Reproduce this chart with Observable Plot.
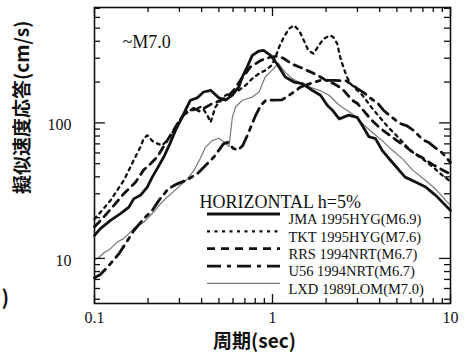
<!DOCTYPE html>
<html><head><meta charset="utf-8">
<script src="https://cdn.jsdelivr.net/npm/d3@7"></script>
<script src="https://cdn.jsdelivr.net/npm/@observablehq/plot@0.6"></script>
<style>body{margin:0;background:#fff}</style>
</head><body><div id="chart"></div>
<script>
// ---- data: [period (sec), pseudo velocity response (cm/s)] ----
const JMA = [[0.1,14.8],[0.108,16.6],[0.123,19.1],[0.14,21.4],[0.156,23.9],[0.166,27.5],[0.181,29.2],[0.198,33.6],[0.211,39.8],[0.225,46],[0.245,56],[0.265,70],[0.285,88],[0.305,105],[0.325,125],[0.346,147],[0.378,153],[0.41,169],[0.449,174],[0.5,153],[0.545,147],[0.595,160],[0.647,184],[0.676,218],[0.72,258],[0.77,315],[0.84,339],[0.89,343],[0.976,315],[1.06,273],[1.18,218],[1.32,200],[1.47,195],[1.67,174],[1.86,160],[2.03,135],[2.17,124],[2.37,107],[2.68,114],[2.99,110],[3.19,96],[3.48,79],[3.79,76.5],[4.13,62.7],[4.6,53],[5.56,39.8],[6.36,36.6],[7.26,33.6],[8.25,29.2],[9.55,24],[10,22.6]];
const TKT = [[0.1,19.5],[0.123,26.8],[0.146,37.6],[0.166,52.9],[0.181,66.3],[0.189,76.5],[0.198,80.9],[0.215,72],[0.24,68.2],[0.256,74.3],[0.279,88],[0.304,107],[0.332,124],[0.36,124],[0.394,131],[0.412,124],[0.43,114],[0.449,101],[0.478,131],[0.545,160],[0.647,174],[0.705,189],[0.77,212],[0.84,231],[0.912,244],[0.99,266],[1.04,306],[1.09,363],[1.16,431],[1.24,496],[1.32,524],[1.41,481],[1.5,406],[1.59,342],[1.7,324],[1.82,373],[1.94,418],[2.11,442],[2.2,428],[2.31,384],[2.4,306],[2.5,258],[2.62,218],[2.74,195],[2.92,179],[3.2,160],[3.6,130],[4.0,110],[4.5,92],[5,80],[5.5,70],[6,62],[7,54],[8,47],[9,41],[10,37]];
const RRS = [[0.1,17.1],[0.106,18.5],[0.123,23],[0.146,30],[0.17,36.5],[0.189,45],[0.2,48],[0.225,56],[0.256,74],[0.292,98],[0.318,115],[0.36,128],[0.39,122],[0.42,130],[0.45,137],[0.469,139],[0.556,155],[0.606,174],[0.66,206],[0.75,258],[0.86,289],[0.976,306],[1.06,310],[1.15,300],[1.3,270],[1.45,255],[1.7,232],[1.86,218],[2.0,206],[2.2,195],[2.46,179],[2.8,147],[3.0,139],[3.3,120],[3.6,105],[4.0,92],[4.5,82],[5.0,74],[5.5,68],[6.2,60],[7,55],[8,49],[9,45],[10,42]];
const U56 = [[0.1,7.2],[0.108,7.6],[0.118,8.6],[0.137,10.8],[0.153,13.5],[0.166,16],[0.189,19.6],[0.211,22.6],[0.23,26.8],[0.26,32.7],[0.292,35.5],[0.332,38],[0.378,42.2],[0.43,50],[0.469,56],[0.5,63],[0.53,70],[0.56,72],[0.6,65],[0.64,63],[0.68,68],[0.72,80],[0.76,95],[0.8,112],[0.86,135],[0.92,147],[1.0,147],[1.13,148],[1.2,155],[1.32,169],[1.44,184],[1.63,195],[1.86,206],[2.2,206],[2.6,204],[3.0,179],[3.3,165],[3.6,150],[3.9,140],[4.2,124],[4.6,112],[5.2,99],[5.7,95],[6.2,88],[7.0,75],[7.5,72],[8.4,64],[9,60],[10,51]];
const LXD = [[0.1,9.8],[0.104,10],[0.113,11],[0.123,11.8],[0.134,13.2],[0.146,14],[0.166,16.6],[0.189,18.5],[0.215,22],[0.235,25.4],[0.256,28.3],[0.292,33],[0.332,38.5],[0.362,44.6],[0.394,55],[0.42,66],[0.458,74],[0.5,77],[0.545,71],[0.57,67],[0.595,110],[0.62,131],[0.676,147],[0.77,155],[0.84,169],[0.91,218],[0.99,244],[1.08,274],[1.18,236],[1.29,212],[1.52,189],[1.83,174],[2.08,160],[2.37,135],[2.8,117],[3.19,99],[3.6,86],[4.13,74],[4.7,63],[5.4,54],[6.1,45],[7.25,37.6],[8.2,32.7],[9.4,26.8],[10,24.6]];

const seriesKeys = ["JMA","TKT","RRS","U56","LXD"];
const seriesLabels = ["JMA 1995HYG(M6.9)","TKT 1995HYG(M7.6)","RRS 1994NRT(M6.7)","U56 1994NRT(M6.7)","LXD 1989LOM(M7.0)"];
const xMajorTicks = [0.1, 1, 10];
const xMinorTicks = [0.2,0.3,0.4,0.5,0.6,0.7,0.8,0.9,2,3,4,5,6,7,8,9];
const yMajorTicks = [10, 100];
const yMinorTicks = [5,6,7,8,9,20,30,40,50,60,70,80,90,200,300,400,500,600,700];
const titleText = "~M7.0";
const legendTitle = "HORIZONTAL h=5%";
const xLabel = "周期(sec)";
const yLabel = "擬似速度応答(cm/s)";
const edgeFragment = ")";

// ---- styles & layout ----
const data = {JMA, TKT, RRS, U56, LXD};
const styles = {
  JMA: {stroke: "#111", strokeWidth: 2.8},
  TKT: {stroke: "#111", strokeWidth: 2.3, strokeDasharray: "3,4.5"},
  RRS: {stroke: "#111", strokeWidth: 2.8, strokeDasharray: "8,6"},
  U56: {stroke: "#111", strokeWidth: 2.8, strokeDasharray: "14,6,4,6"},
  LXD: {stroke: "#777", strokeWidth: 1.2}
};
const W = 466, H = 360, mL = 94, mR = 16, mT = 7, mB = 57;
const FW = W - mL - mR, FH = H - mT - mB;
const serif = "'Liberation Serif', 'Times New Roman', serif";
const gothic = "'Noto Sans CJK JP', sans-serif";
const rowY0 = 206.5, rowGap = 17.35, frameMid = FH / 2;

const marks = [];
for (const k of ["LXD","U56","RRS","TKT","JMA"]) {
  marks.push(Plot.line(data[k], {x: d => d[0], y: d => d[1], ...styles[k], strokeLinejoin: "round"}));
}
marks.push(Plot.frame({stroke: "#111", strokeWidth: 1.6}));
const tickCol = {stroke: "#111", strokeWidth: 1.3};
marks.push(
  Plot.tickX(xMajorTicks, {x: d => d, insetTop: FH - 9, ...tickCol}),
  Plot.tickX(xMajorTicks, {x: d => d, insetBottom: FH - 9, ...tickCol}),
  Plot.tickX(xMinorTicks, {x: d => d, insetTop: FH - 5, ...tickCol}),
  Plot.tickX(xMinorTicks, {x: d => d, insetBottom: FH - 5, ...tickCol}),
  Plot.tickY(yMajorTicks, {y: d => d, insetRight: FW - 11, ...tickCol}),
  Plot.tickY(yMajorTicks, {y: d => d, insetLeft: FW - 11, ...tickCol}),
  Plot.tickY(yMinorTicks, {y: d => d, insetRight: FW - 6, ...tickCol}),
  Plot.tickY(yMinorTicks, {y: d => d, insetLeft: FW - 6, ...tickCol})
);
marks.push(
  Plot.axisX(xMajorTicks, {anchor: "bottom", tickSize: 0, tickPadding: 8, tickFormat: d => String(d), label: null, fontSize: 16, fontFamily: serif, fill: "#111"}),
  Plot.axisY(yMajorTicks, {anchor: "left", tickSize: 0, tickPadding: 23, tickFormat: d => String(d), label: null, fontSize: 16, fontFamily: serif, fill: "#111", dy: 2})
);
marks.push(
  Plot.text([xLabel], {frameAnchor: "bottom", dx: -18, dy: 44, fontSize: 19, fontWeight: "bold", fontFamily: gothic, fill: "#111"}),
  Plot.text([yLabel], {frameAnchor: "left", rotate: -90, dx: -71.5, dy: 38.5, fontSize: 19, fontWeight: "bold", fontFamily: gothic, fill: "#111"}),
  Plot.text([edgeFragment], {frameAnchor: "bottom-left", dx: -93, dy: 1, textAnchor: "start", fontSize: 20, fontWeight: "bold", fontFamily: gothic, fill: "#111"})
);
marks.push(
  Plot.text([titleText], {frameAnchor: "top-left", dx: 28, dy: 27.5, textAnchor: "start", fontSize: 18, fontFamily: serif, fill: "#111"}),
  Plot.text([legendTitle], {frameAnchor: "top-left", dx: 105, dy: 188, textAnchor: "start", fontSize: 18, fontFamily: serif, fill: "#111"})
);
seriesKeys.forEach((k, i) => {
  const ry = rowY0 + i * rowGap;
  marks.push(
    Plot.ruleY([k], {y: null, dy: ry - frameMid, insetLeft: 113, insetRight: 170, ...styles[k]}),
    Plot.text([seriesLabels[i]], {frameAnchor: "top-left", dx: 194, dy: ry, textAnchor: "start", fontSize: 14.5, fontFamily: serif, fill: "#111"})
  );
});

const chart = Plot.plot({
  width: W, height: H,
  marginLeft: mL, marginRight: mR, marginTop: mT, marginBottom: mB,
  x: {type: "log", domain: [0.1, 10], axis: null},
  y: {type: "log", domain: [4.65, 710], axis: null},
  style: {background: "#fff", color: "#111", fontFamily: serif, fontSize: "16px", overflow: "visible"},
  marks
});
document.getElementById("chart").appendChild(chart);
</script>
</body></html>
